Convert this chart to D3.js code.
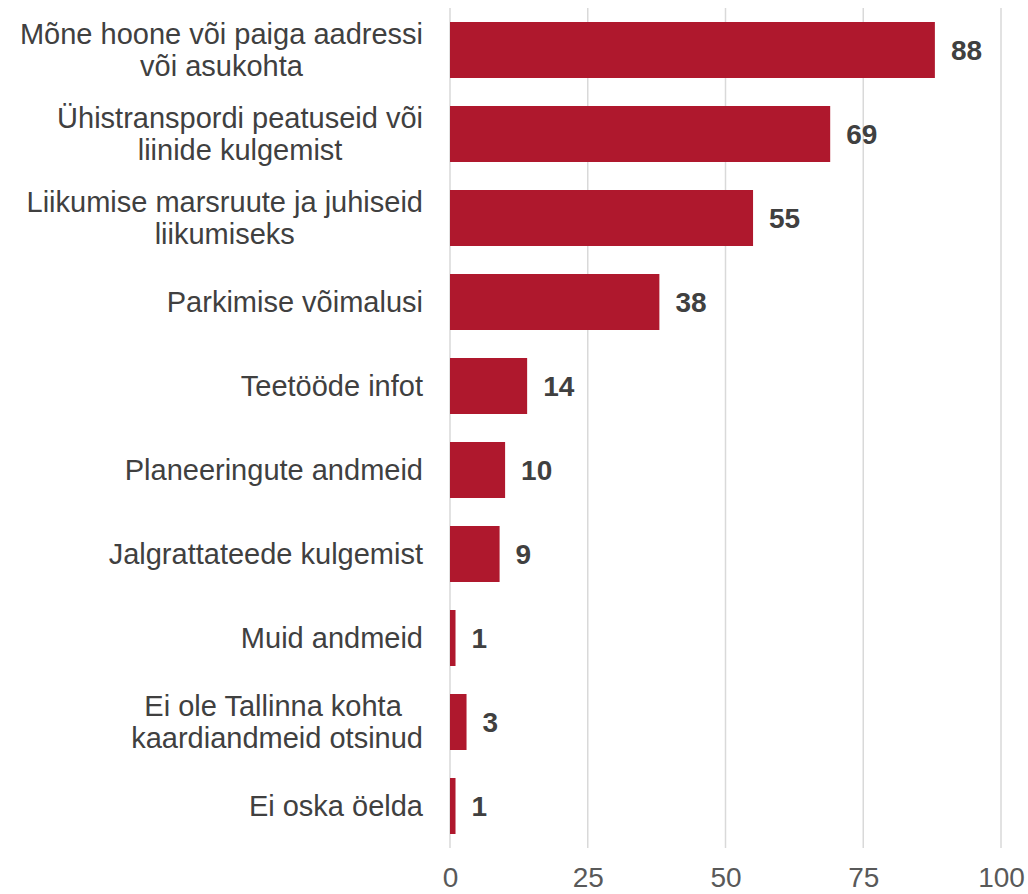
<!DOCTYPE html>
<html>
<head>
<meta charset="utf-8">
<script src="https://cdn.jsdelivr.net/npm/d3@7"></script>
<style>
  body { margin: 0; background: #fff; overflow: hidden; }
  svg text { font-family: "Liberation Sans", Arial, sans-serif; }
</style>
</head>
<body>
<script>
// categories (top to bottom), each split into lines as in the source
var categories = [
  ["Mõne hoone või paiga aadressi", "või asukohta"],
  ["Ühistranspordi peatuseid või", "liinide kulgemist"],
  ["Liikumise marsruute ja juhiseid", "liikumiseks"],
  ["Parkimise võimalusi"],
  ["Teetööde infot"],
  ["Planeeringute andmeid"],
  ["Jalgrattateede kulgemist"],
  ["Muid andmeid"],
  ["Ei ole Tallinna kohta ", "kaardiandmeid otsinud"],
  ["Ei oska öelda"]
];
var values = [88, 69, 55, 38, 14, 10, 9, 1, 3, 1];
var xTicks = [0, 25, 50, 75, 100];

var width = 1028, height = 894;
var margin = { top: 8, right: 27, bottom: 46, left: 450 };
var innerW = width - margin.left - margin.right;
var innerH = height - margin.top - margin.bottom;
var fontSize = 28;
var labelSize = 29;

var svg = d3.select("body").append("svg")
  .attr("width", width)
  .attr("height", height);

var main = svg.append("g")
  .attr("transform", "translate(" + margin.left + "," + margin.top + ")");

var x = d3.scaleLinear().domain([0, 100]).range([0, innerW]);
var y = d3.scaleBand()
  .domain(d3.range(categories.length))
  .range([0, innerH])
  .paddingInner(1 / 3)
  .paddingOuter(1 / 6);

// gridlines
main.append("g").selectAll("line")
  .data(xTicks)
  .enter().append("line")
  .attr("x1", function (d) { return x(d); })
  .attr("x2", function (d) { return x(d); })
  .attr("y1", 0)
  .attr("y2", innerH)
  .attr("stroke", "#d9d9d9")
  .attr("stroke-width", 1.5);

// x axis
var xAxis = d3.axisBottom(x).tickValues(xTicks).tickSize(0).tickPadding(19);
var ax = main.append("g")
  .attr("transform", "translate(0," + innerH + ")")
  .call(xAxis);
ax.select(".domain").remove();
ax.selectAll("text")
  .attr("font-size", fontSize)
  .attr("fill", "#595959")
  .style("font-family", "Liberation Sans, Arial, sans-serif");

// bars
main.append("g").selectAll("rect")
  .data(values)
  .enter().append("rect")
  .attr("x", x(0))
  .attr("y", function (d, i) { return y(i); })
  .attr("width", function (d) { return x(d) - x(0); })
  .attr("height", y.bandwidth())
  .attr("fill", "#af182d");

// value labels
main.append("g").selectAll("text")
  .data(values)
  .enter().append("text")
  .attr("x", function (d) { return x(d) + 16; })
  .attr("y", function (d, i) { return y(i) + y.bandwidth() / 2; })
  .attr("dy", "0.35em")
  .attr("font-size", fontSize)
  .attr("font-weight", "bold")
  .attr("fill", "#404040")
  .text(function (d) { return d; });

// category labels: multi-line, centred within a right-aligned block
var lineH = 32;
var labels = main.append("g").selectAll("g")
  .data(categories)
  .enter().append("g");

labels.each(function (lines, i) {
  var g = d3.select(this);
  var cy = y(i) + y.bandwidth() / 2;
  var texts = g.selectAll("text")
    .data(lines)
    .enter().append("text")
    .attr("font-size", labelSize)
    .attr("fill", "#404040")
    .attr("text-anchor", "middle")
    .style("white-space", "pre")
    .attr("y", function (d, j) { return cy + (j - (lines.length - 1) / 2) * lineH; })
    .attr("dy", "0.35em")
    .text(function (d) { return d; });
  var maxW = 0;
  texts.each(function () { maxW = Math.max(maxW, this.getComputedTextLength()); });
  texts.attr("x", -27 - maxW / 2);
});
</script>
</body>
</html>
